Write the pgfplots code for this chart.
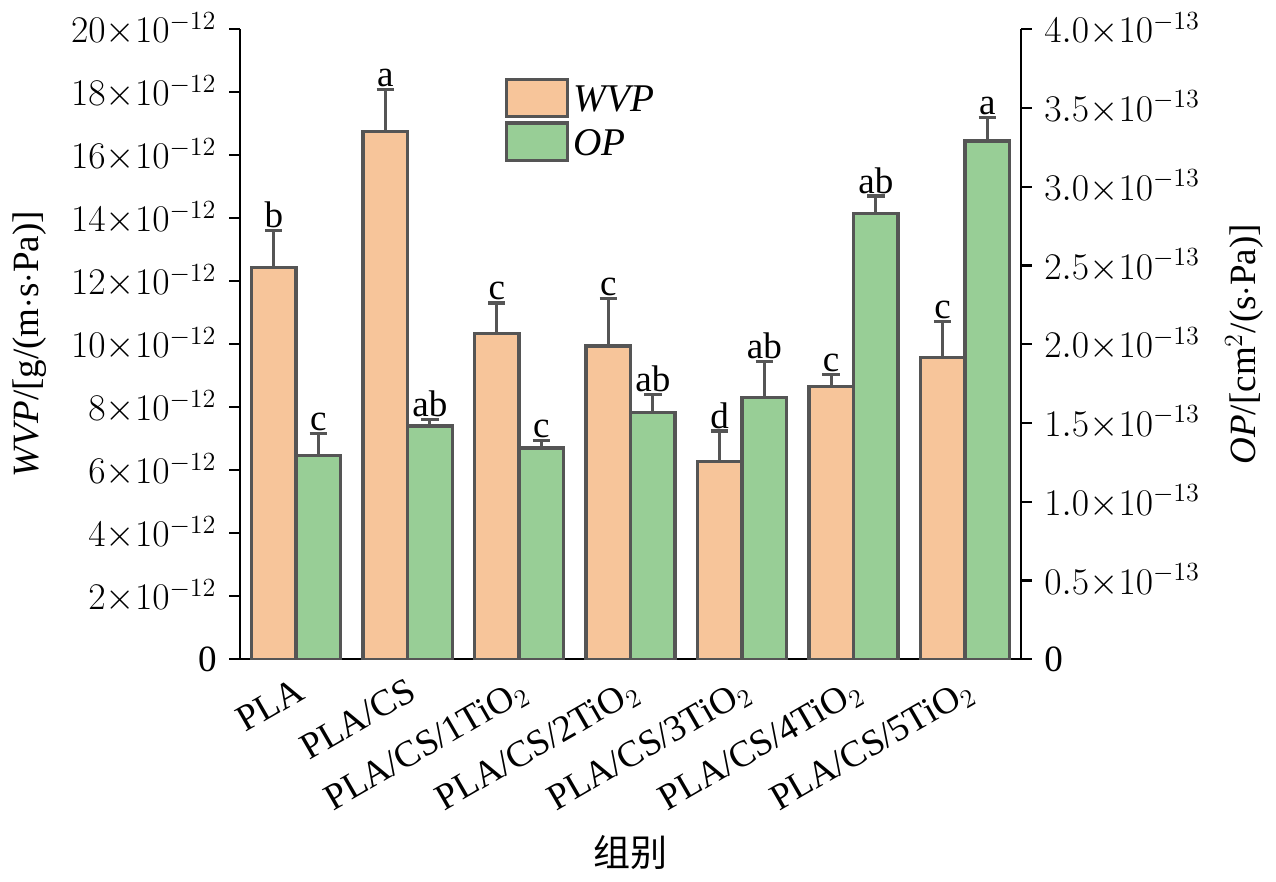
\documentclass[border=0pt]{standalone}
\usepackage{pgfplots}
\pgfplotsset{compat=1.18}
\usepackage{fontspec}
\setmainfont{Liberation Serif}
\newfontfamily\cjk{Noto Sans CJK SC}
\definecolor{wvp}{HTML}{F7C59A}
\definecolor{opc}{HTML}{98CE96}
\definecolor{edge}{HTML}{555555}
\begin{document}
\fontsize{17}{19}\selectfont
\begin{tikzpicture}
\pgfplotsset{every axis/.style={scale only axis,width=358pt,height=289pt,xmin=-0.5,xmax=6.5,ymin=0,
  axis line style={line width=1pt},tick style={line width=1pt,black},tick align=outside,major tick length=5pt,
  tick label style={font=\fontsize{17}{19}\selectfont},label style={font=\fontsize{17}{19}\selectfont}}}
\begin{axis}[ymax=20, axis y line*=left, axis x line*=bottom,
  ytick={0,2,...,20},
  yticklabels={0,$2{\times}10^{-12}$,$4{\times}10^{-12}$,$6{\times}10^{-12}$,$8{\times}10^{-12}$,$10{\times}10^{-12}$,$12{\times}10^{-12}$,$14{\times}10^{-12}$,$16{\times}10^{-12}$,$18{\times}10^{-12}$,$20{\times}10^{-12}$},
  xtick={0,...,6}, major x tick style={draw=none},
  xticklabels={PLA,PLA/CS,PLA/CS/1TiO$_2$,PLA/CS/2TiO$_2$,PLA/CS/3TiO$_2$,PLA/CS/4TiO$_2$,PLA/CS/5TiO$_2$},
  xticklabel style={rotate=30,anchor=north east,inner sep=2pt},
  ylabel={\textit{WVP}/[g/(m$\cdot$s$\cdot$Pa)]},
  xlabel={\cjk 组别},
  legend style={at={(0.33,0.93)},anchor=north west,draw=none,fill=none,font=\itshape\fontsize{18}{20}\selectfont},
  legend image code/.code={\draw[#1,line width=1.5pt] (0pt,-7pt) rectangle (28pt,10pt);},
  legend cell align=left]
\addplot[ybar,bar width=0.4,bar shift=0,fill=wvp,draw=edge,line width=1.5pt,
  error bars/.cd,y dir=plus,y explicit,error bar style={edge,line width=1.5pt},error mark options={edge,line width=1.5pt,mark size=4pt,rotate=90}]
  coordinates {(-0.2,12.44)+-(0,1.18) (0.8,16.76)+-(0,1.32) (1.8,10.35)+-(0,0.96) (2.8,9.94)+-(0,1.50) (3.8,6.28)+-(0,0.96) (4.8,8.65)+-(0,0.39) (5.8,9.58)+-(0,1.13)};
\addlegendentry{WVP}
\addlegendimage{fill=opc,draw=edge}
\addlegendentry{OP}
\addplot[draw=none,mark=none,nodes near coords,point meta=explicit symbolic,
  nodes near coords align={above},every node near coord/.style={font=\fontsize{17}{19}\selectfont,inner sep=1pt}]
  coordinates {(-0.2,13.62)[b] (0.8,18.08)[a] (1.8,11.31)[c] (2.8,11.44)[c] (3.8,7.24)[d] (4.8,9.04)[c] (5.8,10.71)[c]};
\end{axis}
\begin{axis}[ymax=4, axis y line*=right, axis x line=none,
  ytick={0,0.5,...,4},
  yticklabels={0,$0.5{\times}10^{-13}$,$1.0{\times}10^{-13}$,$1.5{\times}10^{-13}$,$2.0{\times}10^{-13}$,$2.5{\times}10^{-13}$,$3.0{\times}10^{-13}$,$3.5{\times}10^{-13}$,$4.0{\times}10^{-13}$},
  ylabel={\textit{OP}/[cm$^2$/(s$\cdot$Pa)]}]
\addplot[ybar,bar width=0.4,bar shift=0,fill=opc,draw=edge,line width=1.5pt,
  error bars/.cd,y dir=plus,y explicit,error bar style={edge,line width=1.5pt},error mark options={edge,line width=1.5pt,mark size=4pt,rotate=90}]
  coordinates {(0.2,1.295)+-(0,0.14) (1.2,1.48)+-(0,0.04) (2.2,1.34)+-(0,0.05) (3.2,1.564)+-(0,0.116) (4.2,1.66)+-(0,0.23) (5.2,2.83)+-(0,0.11) (6.2,3.29)+-(0,0.15)};
\addplot[draw=none,mark=none,nodes near coords,point meta=explicit symbolic,
  nodes near coords align={above},every node near coord/.style={font=\fontsize{17}{19}\selectfont,inner sep=1pt}]
  coordinates {(0.2,1.436)[c] (1.2,1.52)[ab] (2.2,1.39)[c] (3.2,1.68)[ab] (4.2,1.89)[ab] (5.2,2.94)[ab] (6.2,3.44)[a]};
\end{axis}
\end{tikzpicture}
\end{document}
